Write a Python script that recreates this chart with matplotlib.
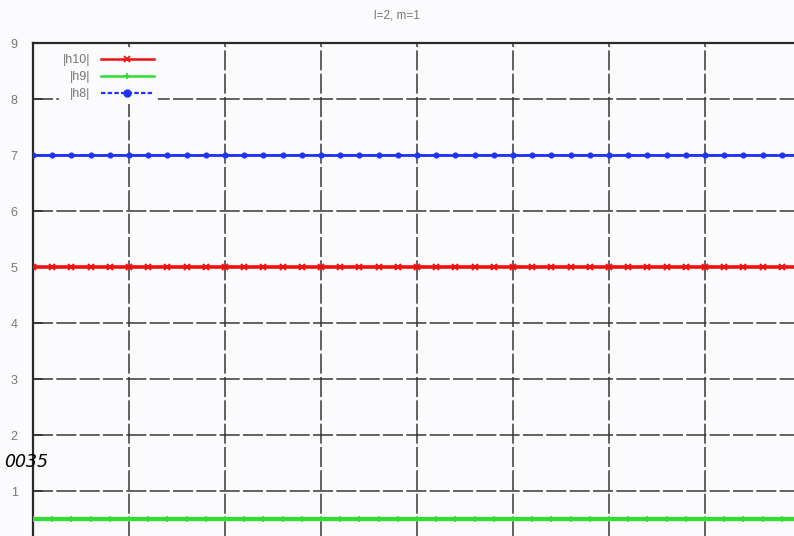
import matplotlib
matplotlib.use("Agg")
import matplotlib.pyplot as plt
from matplotlib.lines import Line2D

# sample index along the run
samples = list(range(0, 47))
h10 = [5.0] * len(samples)
h9 = [0.5] * len(samples)
h8 = [7.0] * len(samples)
labels = ["|h10|", "|h9|", "|h8|"]
title = "l=2, m=1"
yticks = [1, 2, 3, 4, 5, 6, 7, 8, 9]
xgrid = [0, 5, 10, 15, 20, 25, 30, 35, 40, 45]

W, H = 794, 536
fig = plt.figure(figsize=(W / 100, H / 100), dpi=100)
fig.patch.set_facecolor("#fbfbfd")

# axes frame: left edge at 33 px, top at 43 px, runs past right/bottom edges
left_px, top_px = 33, 43
px_per_unit_y = 56.0
px_per_sample = 19.2
x_max = 46
ax_w = x_max * px_per_sample
ax_h = 9 * px_per_unit_y
ax = fig.add_axes([left_px / W, (H - top_px - ax_h) / H, ax_w / W, ax_h / H])
ax.set_facecolor("#fbfbfd")
ax.set_xlim(0, x_max)
ax.set_ylim(0, 9)

gray_txt = "#777777"
ax.set_yticks(yticks)
ax.set_yticklabels([str(v) for v in yticks], fontsize=9, color=gray_txt,
                   family="Liberation Sans")
ax.set_xticks(xgrid)
ax.set_xticklabels([])
ax.tick_params(axis="both", direction="in", length=7, width=1.2,
               color="#333333", pad=11)
ax.tick_params(axis="x", length=0)

for s in ax.spines.values():
    s.set_linewidth(1.6)
    s.set_color("#2a2a2a")

ax.grid(True, color="#333333", linestyle=(0, (12, 2)), linewidth=1.2,
        alpha=0.9)
ax.set_axisbelow(True)

ax.plot(samples, h10, color="#f01010", lw=2.6, marker="x", ms=4,
        mew=1.4, zorder=3)
ax.plot(samples, h9, color="#30dd30", lw=3.0, marker="+", ms=4,
        mew=1.2, zorder=3)
ax.plot(samples, h8, color="#2030ff", lw=2.0, marker="o", ms=3.4,
        zorder=3)

handles = [
    Line2D([], [], color="#f01010", lw=1.8, marker="x", ms=5, mew=1.3),
    Line2D([], [], color="#30dd30", lw=1.8, marker="+", ms=5, mew=1.3),
    Line2D([], [], color="#2030ff", lw=1.6, ls=(0, (2, 1)), marker="o", ms=5),
]
leg = ax.legend(handles, labels, loc="upper left",
                bbox_to_anchor=(20 / ax_w, 1 - 1 / ax_h),
                frameon=True, fancybox=False, edgecolor="none",
                facecolor="#fbfbfd", framealpha=1.0, markerfirst=False,
                handlelength=4.3, handletextpad=0.8, labelspacing=0.4,
                borderpad=0.3,
                prop={"family": "Liberation Sans", "size": 9})
for t in leg.get_texts():
    t.set_color(gray_txt)
    t.set_ha("right")

fig.text(397 / W, 1 - 16 / H, title, ha="center", va="center",
         fontsize=8.5, color=gray_txt, family="Liberation Sans")

fig.text(48 / W, 1 - 462 / H, "0035", ha="right", va="center",
         fontsize=12.5, style="italic", color="black", family="DejaVu Sans")

fig.savefig("out.png", dpi=100, facecolor=fig.get_facecolor())
